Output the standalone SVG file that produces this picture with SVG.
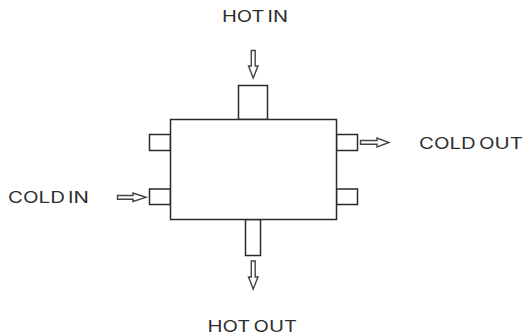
<svg xmlns="http://www.w3.org/2000/svg" width="525" height="334" viewBox="0 0 525 334">
<style>
.b{fill:#fff;stroke:#2a2a2a;stroke-width:1.5}
.a{fill:#fff;stroke:#444;stroke-width:1.4}
text{font-family:"Inter","Liberation Sans",sans-serif;font-size:15.5px;fill:#2e2e2e;word-spacing:-2px}
</style>
<rect width="525" height="334" fill="#fff"/>
<g id="port-top"><rect class="b" x="238.5" y="85.5" width="29" height="34"/></g>
<g id="port-left-upper"><rect class="b" x="149.5" y="134.5" width="21" height="16"/></g>
<g id="port-right-upper"><rect class="b" x="336.5" y="134.5" width="21" height="16"/></g>
<g id="port-left-lower"><rect class="b" x="149.5" y="189" width="21" height="15.5"/></g>
<g id="port-right-lower"><rect class="b" x="336.5" y="189" width="21" height="15.5"/></g>
<g id="port-bottom"><rect class="b" x="245.5" y="219.5" width="15" height="36"/></g>
<g id="body"><rect class="b" x="170.5" y="119.5" width="166" height="100"/></g>
<g id="connectors">
<path class="a" d="M251.3 50.5H255.2V66H258L253.2 78L248.5 66H251.3Z"/>
<path class="a" d="M360.5 140.5H377V138L389 142.5L377 147V144.3H360.5Z"/>
<path class="a" d="M117.5 195.5H133V193L146 197.3L133 201.5V199.3H117.5Z"/>
<path class="a" d="M251.3 261H255.2V277H258L253.2 289L248.5 277H251.3Z"/>
</g>
<g id="labels">
<text x="222" y="22" textLength="66" lengthAdjust="spacingAndGlyphs">HOT IN</text>
<text x="419" y="149" textLength="104" lengthAdjust="spacingAndGlyphs">COLD OUT</text>
<text x="8" y="203" textLength="81" lengthAdjust="spacingAndGlyphs">COLD IN</text>
<text x="207.5" y="331.5" textLength="89.5" lengthAdjust="spacingAndGlyphs">HOT OUT</text>
</g>
</svg>
